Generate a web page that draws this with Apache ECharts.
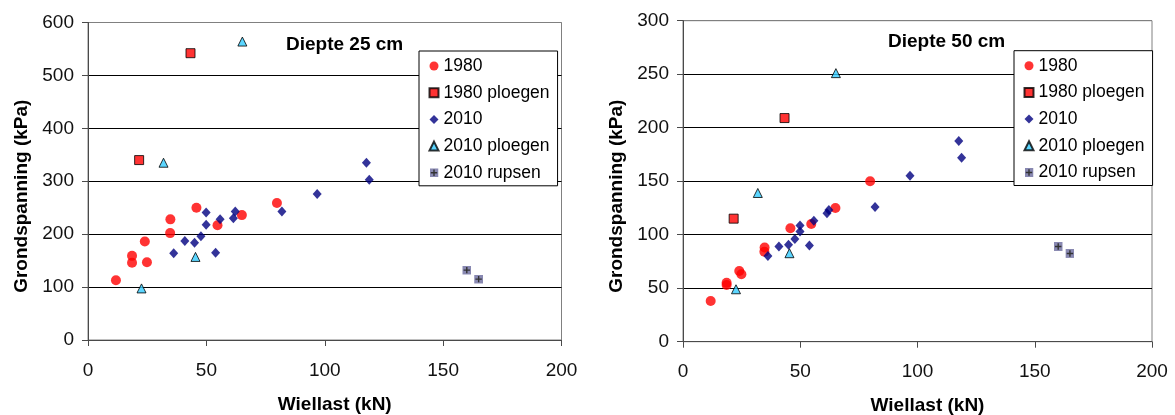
<!DOCTYPE html>
<html><head><meta charset="utf-8">
<script src="https://cdn.jsdelivr.net/npm/echarts@6/dist/echarts.min.js"></script>
<style>html,body{margin:0;padding:0;background:#fff}#c{width:1175px;height:415px}</style>
</head><body><div id="c"></div>
<script>
// ---- data ----
const seriesNames = ['1980', '1980 ploegen', '2010', '2010 ploegen', '2010 rupsen'];
const depthTitles = ['Diepte 25 cm', 'Diepte 50 cm'];
const xTicks = [0, 50, 100, 150, 200];
const yTicks25 = [0, 100, 200, 300, 400, 500, 600];
const yTicks50 = [0, 50, 100, 150, 200, 250, 300];

// Wiellast (kN)
const wl1980 = [11.8, 18.6, 18.6, 24.0, 24.9, 34.7, 34.8, 45.8, 54.7, 65.0, 79.8];
const wl1980p = [21.6, 43.3];
const wl2010 = [36.2, 40.9, 45.0, 47.7, 49.9, 49.9, 53.9, 55.8, 61.4, 62.2, 81.9, 96.8, 117.6, 118.8];
const wl2010p = [22.6, 31.9, 45.4, 65.2];
const wl2010r = [160.0, 165.0];

// Grondspanning (kPa) at 25 cm
const gs25_1980 = [113, 146, 159, 186, 147, 202, 228, 250, 217, 236, 259];
const gs25_1980p = [340, 542];
const gs25_2010 = [164, 187, 184, 196, 241, 218, 165, 228, 230, 243, 243, 276, 335, 303];
const gs25_2010p = [97.5, 335, 157, 564];
const gs25_2010r = [132, 115];

// Grondspanning (kPa) at 50 cm
const gs50_1980 = [38, 53, 55, 66, 63, 84, 88, 106, 110, 125, 150];
const gs50_1980p = [115, 209];
const gs50_2010 = [80, 89, 90.5, 96, 108.5, 103, 90, 113, 120, 123, 126, 155, 187.5, 172];
const gs50_2010p = [49, 139, 82.7, 251];
const gs50_2010r = [89, 82.5];

// ---- chart ----
const FONT = '"Liberation Sans", Arial, sans-serif';
const zip = (xs, ys) => xs.map((x, i) => [x, ys[i]]);

const rupsenSvg = "<svg xmlns='http://www.w3.org/2000/svg' width='18' height='18' viewBox='0 0 9 9'>" +
  "<rect width='9' height='9' fill='#6B6B9E'/>" +
  "<path d='M4.5 1.3V7.7M1.3 4.5H7.7' stroke='#000' stroke-width='1.4'/></svg>";
const rupsenIcon = 'image://data:image/svg+xml;charset=utf-8,' + encodeURIComponent(rupsenSvg);

const styles = [
  { symbol: 'circle', symbolSize: 10, itemStyle: { color: '#FF0000' } },
  { symbol: 'rect', symbolSize: 9, itemStyle: { color: '#FF0000', borderColor: '#000', borderWidth: 1 } },
  { symbol: 'diamond', symbolSize: [9, 10], itemStyle: { color: '#000080' } },
  { symbol: 'triangle', symbolSize: 9, itemStyle: { color: '#33CCFF', borderColor: '#000', borderWidth: 1 } },
  { symbol: rupsenIcon, symbolSize: 9, itemStyle: { color: '#6B6B9E' } }
];

const dataByDepth = [
  [zip(wl1980, gs25_1980), zip(wl1980p, gs25_1980p), zip(wl2010, gs25_2010), zip(wl2010p, gs25_2010p), zip(wl2010r, gs25_2010r)],
  [zip(wl1980, gs50_1980), zip(wl1980p, gs50_1980p), zip(wl2010, gs50_2010), zip(wl2010p, gs50_2010p), zip(wl2010r, gs50_2010r)]
];

const series = [];
dataByDepth.forEach((sets, g) => {
  sets.forEach((d, i) => {
    series.push(Object.assign({
      type: 'scatter', name: seriesNames[i], xAxisIndex: g, yAxisIndex: g,
      data: d, emphasis: { disabled: true }, z: 3 + i
    }, styles[i]));
  });
});

const grids = [
  { left: 88, top: 22.5, width: 473.5, height: 317.5, show: true, borderColor: '#808080', borderWidth: 1, backgroundColor: '#fff', containLabel: false, outerBoundsMode: 'none' },
  { left: 683, top: 20.7, width: 469, height: 321, show: true, borderColor: '#808080', borderWidth: 1, backgroundColor: '#fff', containLabel: false, outerBoundsMode: 'none' }
];

function xAxis(g) {
  return {
    gridIndex: g, type: 'value', min: 0, max: 200, interval: 50,
    name: 'Wiellast (kN)', nameLocation: 'middle', nameGap: 55,
    nameTextStyle: { fontFamily: FONT, fontSize: 19, fontWeight: 'bold', color: '#000', padding: [0, 0, 0, 20] },
    axisLine: { show: true, lineStyle: { color: '#4a4a4a', width: 1 } },
    axisTick: { show: true, inside: false, length: 6, lineStyle: { color: '#4a4a4a' } },
    axisLabel: { fontFamily: FONT, fontSize: 19, color: '#111', margin: 21,
      formatter: v => xTicks.includes(v) ? String(v) : '' },
    splitLine: { show: false }
  };
}
function yAxis(g, max, interval, ticks) {
  const n = ticks.length;
  const colors = ticks.map((t, i) => (i === n - 1 ? '#808080' : '#000'));
  return {
    gridIndex: g, type: 'value', min: 0, max: max, interval: interval,
    name: 'Grondspanning (kPa)', nameLocation: 'middle', nameGap: 57,
    nameTextStyle: { fontFamily: FONT, fontSize: 19, fontWeight: 'bold', color: '#000', padding: [0, 30, 0, 0] },
    axisLine: { show: true, lineStyle: { color: '#4a4a4a', width: 1 } },
    axisTick: { show: true, inside: false, length: 6, lineStyle: { color: '#4a4a4a' } },
    axisLabel: { fontFamily: FONT, fontSize: 19, color: '#111', margin: 14,
      formatter: v => ticks.includes(v) ? String(v) : '' },
    splitLine: { show: true, lineStyle: { color: colors, width: 1 } }
  };
}

function legend(left, top) {
  return {
    orient: 'vertical', left: left, top: top,
    data: seriesNames.map((n, i) => i === 4 ? { name: n, icon: rupsenIcon } : { name: n }),
    backgroundColor: '#fff', borderColor: '#000', borderWidth: 1, borderRadius: 0,
    padding: [5, 8, 3, 9.5], itemGap: 6.7, itemWidth: 9, itemHeight: 9,
    textStyle: { fontFamily: FONT, fontSize: 17.5, lineHeight: 20, color: '#000' },
    selectedMode: false
  };
}

const option = {
  animation: false,
  backgroundColor: '#fff',
  title: [
    { text: depthTitles[0], left: 286, top: 35, padding: 0, textStyle: { fontFamily: FONT, fontSize: 19, fontWeight: 'bold', color: '#000' } },
    { text: depthTitles[1], left: 888, top: 32.5, padding: 0, textStyle: { fontFamily: FONT, fontSize: 19, fontWeight: 'bold', color: '#000' } }
  ],
  legend: [legend(419, 51), legend(1014, 50.7)],
  grid: grids,
  xAxis: [xAxis(0), xAxis(1)],
  yAxis: [yAxis(0, 600, 100, yTicks25), yAxis(1, 300, 50, yTicks50)],
  series: series
};

const chart = echarts.init(document.getElementById('c'), null, { renderer: 'canvas' });
chart.setOption(option);
</script>
</body></html>
